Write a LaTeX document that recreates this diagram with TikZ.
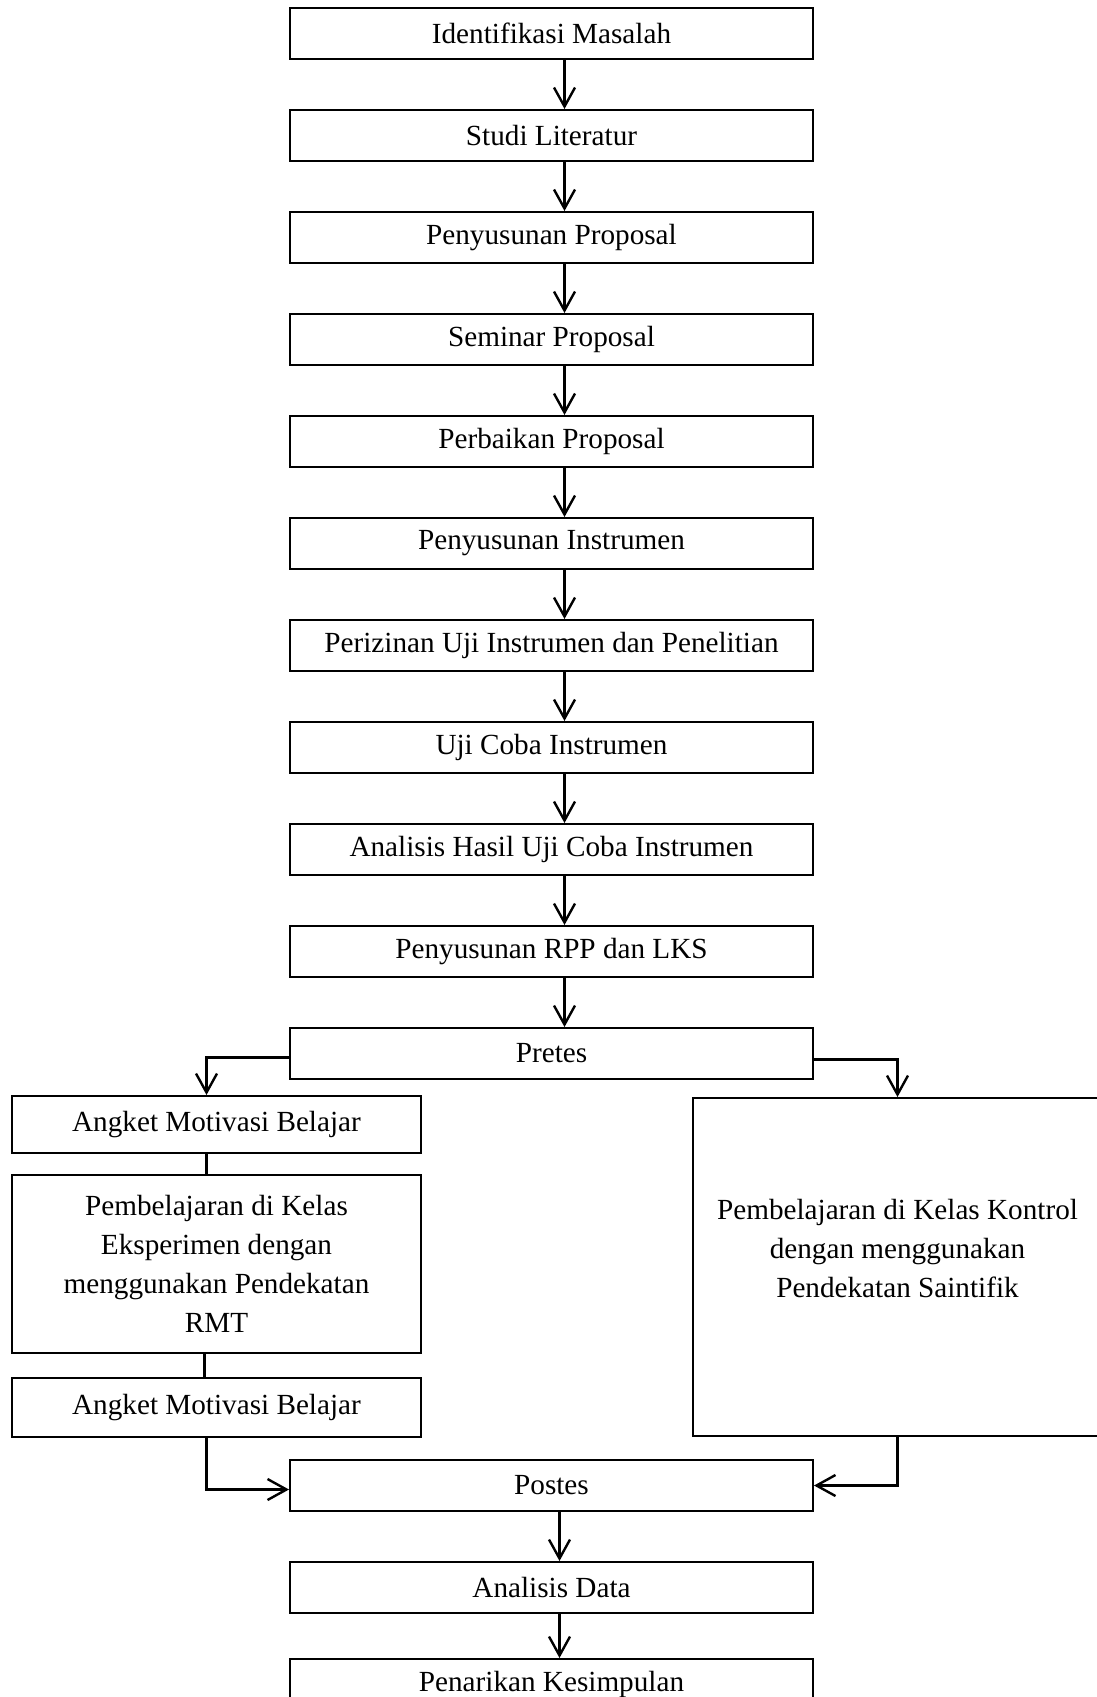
\documentclass[tikz,border=0pt]{standalone}
\usepackage{fontspec}
\setmainfont{Liberation Serif}
\usetikzlibrary{positioning, arrows.meta}

\begin{document}
\begin{tikzpicture}[x=0.5pt, y=-0.5pt, node distance=24.5pt]
    % Styles
    \tikzstyle{block} = [rectangle, draw, line width=1pt, minimum width=261.5pt, minimum height=25.5pt, inner sep=0pt, align=center, font=\fontsize{14.6pt}{19.5pt}\selectfont]
    \tikzstyle{side} = [block, minimum width=204.5pt]
    \tikzstyle{line} = [draw, line width=1.2pt, -{Straight Barb[length=9.5pt,width=10.5pt]}]
    \tikzstyle{link} = [draw, line width=1.1pt]

    \useasboundingbox (0,0) rectangle (1097,1697);
    \clip (0,0) rectangle (1097,1697);

    % Nodes
    \node [block] (identifikasi) at (551.5,33.5) {Identifikasi Masalah};
    \node [block, below=of identifikasi] (studi) {Studi Literatur};
    \node [block, below=of studi] (proposal) {Penyusunan Proposal};
    \node [block, below=of proposal] (seminar) {Seminar Proposal};
    \node [block, below=of seminar] (perbaikan) {Perbaikan Proposal};
    \node [block, below=of perbaikan] (instrumen) {Penyusunan Instrumen};
    \node [block, below=of instrumen] (perizinan) {Perizinan Uji Instrumen dan Penelitian};
    \node [block, below=of perizinan] (ujicoba) {Uji Coba Instrumen};
    \node [block, below=of ujicoba] (hasiluji) {Analisis Hasil Uji Coba Instrumen};
    \node [block, below=of hasiluji] (rpp) {Penyusunan RPP dan LKS};
    \node [block, below=of rpp] (pretes) {Pretes};

    % Side nodes
    \node [side, minimum height=28.5pt] (angketawal) at (216.5,1124.5) {Angket Motivasi Belajar};
    \node [side, minimum height=89pt] (eksperimen) at (216.5,1264) {Pembelajaran di Kelas\\Eksperimen dengan\\menggunakan Pendekatan\\RMT};
    \node [side, minimum height=29.5pt] (angketakhir) at (216.5,1407.5) {Angket Motivasi Belajar};
    \node [side, minimum height=169pt] (kontrol) at (897.5,1267) {Pembelajaran di Kelas Kontrol\\dengan menggunakan\\Pendekatan Saintifik\rule[-19pt]{0pt}{0pt}};

    \node [block] (postes) at (551.5,1485.5) {Postes};
    \node [block, below=of postes] (analisis) {Analisis Data};
    \node [block, below=22pt of analisis] (kesimpulan) {Penarikan Kesimpulan};

    % Paths
    \path [line] ([xshift=6.5pt]identifikasi.south) -- ([xshift=6.5pt]studi.north);
    \path [line] ([xshift=6.5pt]studi.south) -- ([xshift=6.5pt]proposal.north);
    \path [line] ([xshift=6.5pt]proposal.south) -- ([xshift=6.5pt]seminar.north);
    \path [line] ([xshift=6.5pt]seminar.south) -- ([xshift=6.5pt]perbaikan.north);
    \path [line] ([xshift=6.5pt]perbaikan.south) -- ([xshift=6.5pt]instrumen.north);
    \path [line] ([xshift=6.5pt]instrumen.south) -- ([xshift=6.5pt]perizinan.north);
    \path [line] ([xshift=6.5pt]perizinan.south) -- ([xshift=6.5pt]ujicoba.north);
    \path [line] ([xshift=6.5pt]ujicoba.south) -- ([xshift=6.5pt]hasiluji.north);
    \path [line] ([xshift=6.5pt]hasiluji.south) -- ([xshift=6.5pt]rpp.north);
    \path [line] ([xshift=6.5pt]rpp.south) -- ([xshift=6.5pt]pretes.north);
    \path [line] ([yshift=-2pt]pretes.west) -| ([xshift=-5pt]angketawal.north);
    \path [line] ([yshift=-3pt]pretes.east) -| (kontrol.north);
    \path [link] ([xshift=-5pt]angketawal.south) -- ([xshift=-5pt]eksperimen.north);
    \path [link] ([xshift=-6pt]eksperimen.south) -- ([xshift=-6pt]angketakhir.north);
    \path [line] ([xshift=-5pt]angketakhir.south) |- ([yshift=-2pt]postes.west);
    \path [line] (kontrol.south) |- (postes.east);
    \path [line] ([xshift=4pt]postes.south) -- ([xshift=4pt]analisis.north);
    \path [line] ([xshift=4pt]analisis.south) -- ([xshift=4pt]kesimpulan.north);
\end{tikzpicture}
\end{document}
